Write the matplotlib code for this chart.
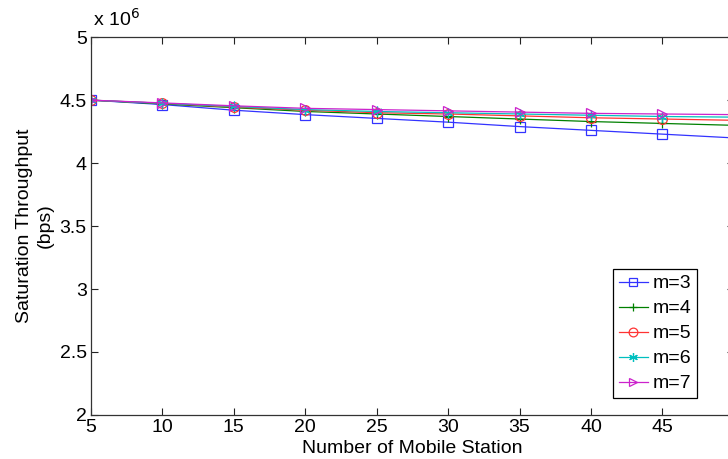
import matplotlib
matplotlib.use("Agg")
import matplotlib.pyplot as plt

plt.rcParams['font.family'] = ['Liberation Sans', 'DejaVu Sans']

stations = [5, 10, 15, 20, 25, 30, 35, 40, 45, 50]
m3 = [4.50, 4.465, 4.42, 4.385, 4.355, 4.325, 4.29, 4.26, 4.23, 4.20]
m4 = [4.50, 4.47, 4.44, 4.41, 4.39, 4.37, 4.35, 4.33, 4.315, 4.30]
m5 = [4.50, 4.475, 4.445, 4.42, 4.40, 4.39, 4.375, 4.36, 4.35, 4.34]
m6 = [4.50, 4.475, 4.45, 4.425, 4.41, 4.40, 4.39, 4.38, 4.37, 4.365]
m7 = [4.50, 4.478, 4.455, 4.435, 4.425, 4.415, 4.405, 4.395, 4.39, 4.385]
labels = ['m=3', 'm=4', 'm=5', 'm=6', 'm=7']
colors = ['#3333ff', '#008000', '#ff3333', '#00bfbf', '#cc22cc']
markers = ['s', '+', 'o', (6, 2, 0), '>']
yticks = [2, 2.5, 3, 3.5, 4, 4.5, 5]
yticklabels = ['2', '2.5', '3', '3.5', '4', '4.5', '5']
xticks = [5, 10, 15, 20, 25, 30, 35, 40, 45, 50]
xticklabels = ['5', '10', '15', '20', '25', '30', '35', '40', '45', '']

fig = plt.figure(figsize=(7.28, 4.59), dpi=100)
ax = fig.add_axes([0.125, 0.096, 0.883, 0.823])

for ys, lab, c, mk in zip([m3, m4, m5, m6, m7], labels, colors, markers):
    ax.plot(stations, ys, color=c, lw=0.9, marker=mk, markersize=7,
            markerfacecolor='none', markeredgecolor=c, markeredgewidth=0.9,
            label=lab)

ax.set_xlim(5, 50)
ax.set_ylim(2, 5)
ax.set_xticks(xticks)
ax.set_xticklabels(xticklabels)
ax.set_yticks(yticks)
ax.set_yticklabels(yticklabels)
ax.tick_params(direction='in', top=True, right=True, labelsize=14, length=5,
               width=0.8, colors='#222222', labelcolor='black', pad=3)
for s in ax.spines.values():
    s.set_color('#333333')
    s.set_linewidth(0.9)

ax.set_xlabel('Number of Mobile Station', fontsize=14, labelpad=3)
ax.set_ylabel('Saturation Throughput\n(bps)', fontsize=14, labelpad=4,
              linespacing=1.3)
fig.text(0.128, 0.935, r'x 10$^{6}$', fontsize=14, ha='left', va='bottom')

leg = ax.legend(loc='upper left', bbox_to_anchor=(613/728, 1 - 269/459),
                bbox_transform=fig.transFigure, fontsize=14, frameon=True,
                fancybox=False, edgecolor='black', framealpha=1,
                handlelength=1.5, handletextpad=0.25, borderpad=0.3,
                labelspacing=0.38, borderaxespad=0, markerscale=0.9)
leg.get_frame().set_linewidth(0.9)

fig.savefig('out.png', dpi=100)
